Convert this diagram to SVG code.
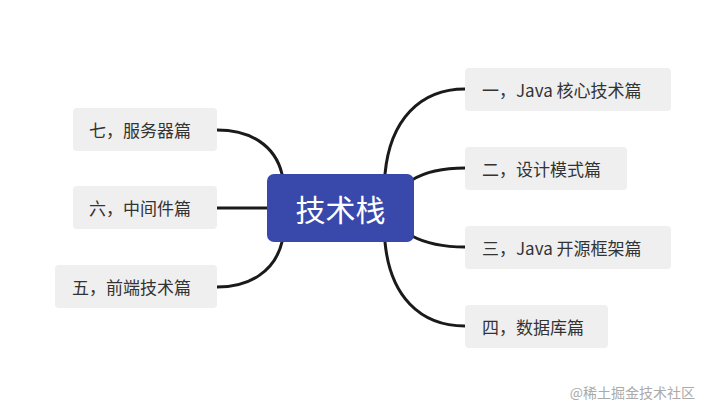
<svg xmlns="http://www.w3.org/2000/svg" width="706" height="414" viewBox="0 0 706 414">
<style>
.n rect{fill:#efefef}
.n text{font-family:"Noto Sans CJK SC","Noto Sans",sans-serif;font-size:17px;fill:#333;dominant-baseline:central}
#edges path{fill:none;stroke:#1a1a1a;stroke-width:3;stroke-linecap:round}
</style>
<rect width="706" height="414" fill="#fff"/>
<g id="edges">
<path d="M385,174 C390,120 420,89 465,89"/>
<path d="M412,180 C425,172 440,168 465,168"/>
<path d="M412,236 C425,243 440,247 465,247"/>
<path d="M385,242 C390,296 420,326 465,326"/>
<path d="M282,174 C275,145 250,130 217,130"/>
<path d="M267,208 L217,208"/>
<path d="M282,242 C275,271 250,287 217,287"/>
</g>
<g id="center"><rect x="267" y="174" width="147" height="68" rx="7" fill="#3949ab"/>
<text x="340.5" y="208" text-anchor="middle" dominant-baseline="central" font-family="Noto Sans CJK SC,sans-serif" font-size="30" fill="#fff">技术栈</text></g>
<g id="n1" class="n"><rect x="465" y="68" width="206" height="43" rx="4"/><text x="482" y="89.5">一，Java 核心技术篇</text></g>
<g id="n2" class="n"><rect x="465" y="147" width="162" height="43" rx="4"/><text x="482" y="168.5">二，设计模式篇</text></g>
<g id="n3" class="n"><rect x="465" y="226" width="206" height="43" rx="4"/><text x="482" y="247.5">三，Java 开源框架篇</text></g>
<g id="n4" class="n"><rect x="465" y="305" width="143" height="43" rx="4"/><text x="482" y="326.5">四，数据库篇</text></g>
<g id="n7" class="n"><rect x="73" y="108" width="144" height="43" rx="4"/><text x="89" y="129.5">七，服务器篇</text></g>
<g id="n6" class="n"><rect x="73" y="186" width="144" height="43" rx="4"/><text x="89" y="207.5">六，中间件篇</text></g>
<g id="n5" class="n"><rect x="55" y="265" width="162" height="43" rx="4"/><text x="72" y="286.5">五，前端技术篇</text></g>
<text x="695" y="392" text-anchor="end" dominant-baseline="central" font-family="Noto Sans CJK SC,sans-serif" font-size="14" fill="#aaa">@稀土掘金技术社区</text>
</svg>
